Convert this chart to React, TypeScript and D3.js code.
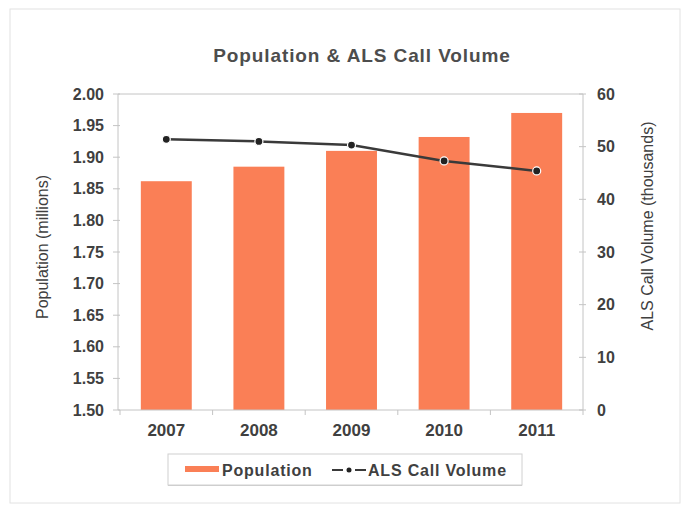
import React from 'react';
import * as d3 from 'd3';

const years = ['2007', '2008', '2009', '2010', '2011'];
const population = [1.862, 1.885, 1.91, 1.932, 1.97];
const alsCalls = [51.4, 51.0, 50.3, 47.3, 45.4];
const leftTicks = [1.5, 1.55, 1.6, 1.65, 1.7, 1.75, 1.8, 1.85, 1.9, 1.95, 2.0];
const rightTicks = [0, 10, 20, 30, 40, 50, 60];

const W = 682;
const H = 506;
const plot = { left: 118, right: 583, top: 94, bottom: 410 };

const barColor = '#fa7f56';
const axisColor = '#c4c4c4';
const textColor = '#404040';
const font = '"Liberation Sans", Arial, sans-serif';

const App = () => {
  const x = d3
    .scaleBand()
    .domain(years)
    .range([plot.left + 2, plot.right])
    .paddingInner(0.45)
    .paddingOuter(0.225);
  const step = x.step();

  const yLeft = d3.scaleLinear().domain([1.5, 2.0]).range([plot.bottom, plot.top]);
  const yRight = d3.scaleLinear().domain([0, 60]).range([plot.bottom, plot.top]);

  const cx = (d: string) => (x(d) ?? 0) + x.bandwidth() / 2;

  const line = d3
    .line<number>()
    .x((_, i) => cx(years[i]))
    .y((d) => yRight(d));

  const catEdges = d3.range(years.length + 1).map((i) => plot.left + 2 + i * step);

  return (
    <svg
      width={W}
      height={H}
      style={{ position: 'absolute', left: 0, top: 0, background: '#fff' }}
      fontFamily={font}
    >
      {/* chart frame */}
      <rect x={10} y={9} width={670} height={494} fill="#fff" stroke="#e2e2e2" strokeWidth={1} />

      {/* title */}
      <text
        x={362}
        y={62}
        textAnchor="middle"
        fontSize={19}
        fontWeight="bold"
        letterSpacing={0.9}
        fill="#4d4d4d"
      >
        Population &amp; ALS Call Volume
      </text>

      {/* plot top border */}
      <line x1={plot.left} x2={plot.right} y1={plot.top} y2={plot.top} stroke={axisColor} />

      {/* bars */}
      {years.map((yr, i) => (
        <rect
          key={yr}
          x={x(yr)}
          y={yLeft(population[i])}
          width={x.bandwidth()}
          height={yLeft(1.5) - yLeft(population[i])}
          fill={barColor}
        />
      ))}

      {/* axes */}
      <line x1={plot.left} x2={plot.left} y1={plot.top} y2={plot.bottom} stroke={axisColor} />
      <line x1={plot.right} x2={plot.right} y1={plot.top} y2={plot.bottom} stroke={axisColor} />
      <line x1={plot.left} x2={plot.right} y1={plot.bottom} y2={plot.bottom} stroke={axisColor} />

      {leftTicks.map((t) => (
        <g key={`l${t}`}>
          <line x1={plot.left - 5} x2={plot.left + 2} y1={yLeft(t)} y2={yLeft(t)} stroke={axisColor} />
          <text
            x={104}
            y={yLeft(t)}
            dy="0.35em"
            textAnchor="end"
            fontSize={16}
            fontWeight="bold"
            fill={textColor}
          >
            {d3.format('.2f')(t)}
          </text>
        </g>
      ))}

      {rightTicks.map((t) => (
        <g key={`r${t}`}>
          <line x1={plot.right - 4} x2={plot.right + 3} y1={yRight(t)} y2={yRight(t)} stroke={axisColor} />
          <text
            x={597}
            y={yRight(t)}
            dy="0.35em"
            textAnchor="start"
            fontSize={16}
            fontWeight="bold"
            fill={textColor}
          >
            {t}
          </text>
        </g>
      ))}

      {catEdges.map((ex, i) => (
        <line key={`e${i}`} x1={ex} x2={ex} y1={plot.bottom} y2={plot.bottom + 5} stroke={axisColor} />
      ))}

      {years.map((yr) => (
        <text
          key={`y${yr}`}
          x={cx(yr)}
          y={436}
          textAnchor="middle"
          fontSize={17}
          fontWeight="bold"
          fill={textColor}
        >
          {yr}
        </text>
      ))}

      {/* axis titles */}
      <text
        transform="translate(48,247) rotate(-90)"
        textAnchor="middle"
        fontSize={16}
        fill={textColor}
      >
        Population (millions)
      </text>
      <text
        transform="translate(653,226) rotate(-90)"
        textAnchor="middle"
        fontSize={16}
        fill={textColor}
      >
        ALS Call Volume (thousands)
      </text>

      {/* line series */}
      <path d={line(alsCalls) ?? ''} fill="none" stroke="#3a3a3a" strokeWidth={2.5} />
      {alsCalls.map((v, i) => (
        <circle
          key={`p${i}`}
          cx={cx(years[i])}
          cy={yRight(v)}
          r={4}
          fill="#222"
          stroke="#fff"
          strokeWidth={1.2}
        />
      ))}

      {/* legend */}
      <rect x={168} y={455} width={354} height={31} fill="#9a9a9a" opacity={0.5} />
      <rect x={168} y={454} width={354} height={31} fill="#fff" stroke="#d0d0d0" />
      <rect x={185} y={466} width={34} height={6} fill={barColor} />
      <text x={222} y={476} fontSize={16} fontWeight="bold" letterSpacing={0.8} fill={textColor}>
        Population
      </text>
      <line x1={332} x2={343} y1={470} y2={470} stroke="#3a3a3a" strokeWidth={2} />
      <line x1={355} x2={366} y1={470} y2={470} stroke="#3a3a3a" strokeWidth={2} />
      <circle cx={349} cy={470} r={2.5} fill="#222" />
      <text x={368} y={476} fontSize={16} fontWeight="bold" letterSpacing={0.8} fill={textColor}>
        ALS Call Volume
      </text>
    </svg>
  );
};

export default App;
